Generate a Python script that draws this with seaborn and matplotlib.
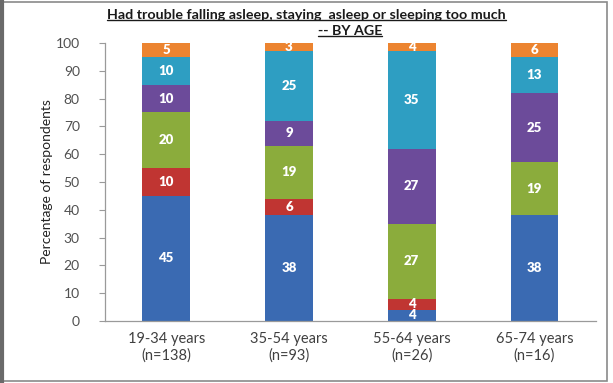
import numpy as np
import pandas as pd
import matplotlib
matplotlib.use("Agg")
import matplotlib.pyplot as plt
from matplotlib.lines import Line2D
from matplotlib.patches import Rectangle
import seaborn as sns

ages = ["19-34 years\n(n=138)", "35-54 years\n(n=93)", "55-64 years\n(n=26)", "65-74 years\n(n=16)"]
blue = [45, 38, 4, 38]
red = [10, 6, 4, 0]
green = [20, 19, 27, 19]
purple = [10, 9, 27, 25]
teal = [10, 25, 35, 13]
orange = [5, 3, 4, 6]

layers = [blue, red, green, purple, teal, orange]
colors = ["#3A6AB2", "#C03532", "#8BAC3C", "#6C4B9A", "#2E9EC2", "#EC8430"]

sns.set_theme(style="white")
plt.rcParams["font.family"] = ["Lato", "DejaVu Sans"]

fig = plt.figure(figsize=(6.13, 3.83), dpi=100)
ax = fig.add_axes([0.171, 0.162, 0.801, 0.726])

df = pd.DataFrame({"age": ages})
cum = np.cumsum(np.array(layers), axis=0)

# Draw cumulative totals from the top layer down so each lower layer covers the one above
for i in range(len(layers) - 1, -1, -1):
    df["top"] = cum[i]
    sns.barplot(data=df, x="age", y="top", color=colors[i], saturation=1,
                width=0.39, ax=ax, linewidth=0, order=ages)

# Value labels centred in each visible segment
for i, vals in enumerate(layers):
    for j, v in enumerate(vals):
        if v <= 0:
            continue
        top = min(cum[i][j], 100)
        bottom = cum[i][j] - v
        ax.text(j, (top + bottom) / 2, str(v), ha="center", va="center", color="white",
                fontsize=9.5, fontweight="heavy")

ax.set_ylim(0, 100)
ax.set_xlim(-0.5, 3.5)
ax.set_yticks(range(0, 101, 10))
ax.tick_params(axis="y", labelsize=10, labelcolor="#505050", color="#9a9a9a",
               length=4, width=0.8, direction="out", left=True, pad=14)
ax.tick_params(axis="x", labelsize=10.5, labelcolor="#404040", length=0, pad=8)
ax.set_xlabel("")
ax.set_ylabel("Percentage of respondents", fontsize=10, color="#222222", labelpad=2)
for s in ["top", "right"]:
    ax.spines[s].set_visible(False)
for s in ["left", "bottom"]:
    ax.spines[s].set_color("#9a9a9a")
    ax.spines[s].set_linewidth(0.9)
ax.set_facecolor("white")

# Two-line underlined title
t1 = fig.text(0.50, 0.962, "Had trouble falling asleep, staying  asleep or sleeping too much",
              ha="center", va="center", fontsize=10.3, fontweight="bold", color="#1a1a1a")
t2 = fig.text(0.571, 0.918, "-- BY AGE", ha="center", va="center",
              fontsize=10.3, fontweight="bold", color="#1a1a1a")
fig.canvas.draw()
r = fig.canvas.get_renderer()
W, H = fig.bbox.width, fig.bbox.height
for t in (t1, t2):
    bb = t.get_window_extent(r)
    y = (bb.y0 + 1) / H
    fig.add_artist(Line2D([bb.x0 / W, bb.x1 / W], [y, y], color="#1a1a1a", lw=1.0))

# Outer frame
fig.add_artist(Rectangle((0.002, 0.004), 0.988, 0.992, transform=fig.transFigure,
                         fill=False, edgecolor="#8a8a8a", lw=1.2))
fig.add_artist(Line2D([0.004, 0.004], [0, 1], color="#6a6a6a", lw=3))

fig.savefig("out.png", dpi=100)
